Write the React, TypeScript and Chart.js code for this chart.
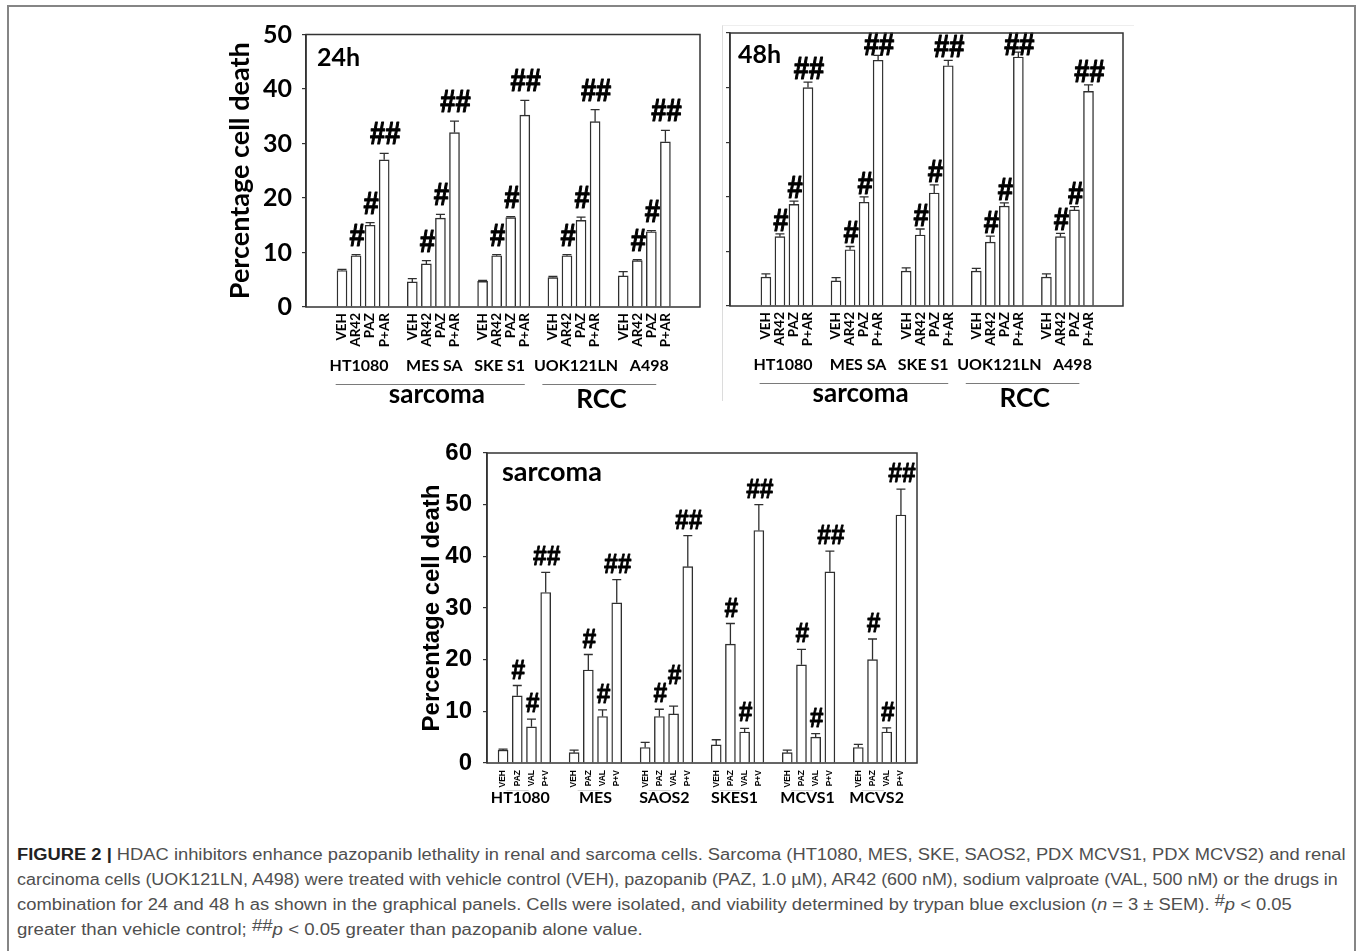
import React, { useEffect, useLayoutEffect, useRef, useState } from 'react';
import { Chart, registerables } from 'chart.js';

Chart.register(...registerables);

// ---------- data ----------
const TREAT_AR42 = ['VEH', 'AR42', 'PAZ', 'P+AR'];
const TREAT_VAL = ['VEH', 'PAZ', 'VAL', 'P+V'];
const CELLS_TOP = ['HT1080', 'MES SA', 'SKE S1', 'UOK121LN', 'A498'];
const CELLS_BOTTOM = ['HT1080', 'MES', 'SAOS2', 'SKES1', 'MCVS1', 'MCVS2'];
const TUMOR_CLASSES = ['sarcoma', 'RCC'];
const SIG_MARKS = ['', '#', '#', '##'];

// % cell death, 24 h (rows: cell lines, cols: VEH, AR42, PAZ, P+AR)
const DEATH_24H = [
  [6.7, 9.4, 15.0, 27.0],
  [4.6, 7.9, 16.3, 32.0],
  [4.7, 9.4, 16.4, 35.2],
  [5.4, 9.4, 15.9, 34.0],
  [5.7, 8.5, 13.8, 30.3],
];
const SEM_24H = [
  [0.2, 0.2, 0.5, 1.2],
  [0.6, 0.6, 0.7, 2.1],
  [0.2, 0.2, 0.2, 2.7],
  [0.2, 0.2, 0.6, 2.2],
  [0.8, 0.2, 0.2, 2.1],
];

// % cell death, 48 h
const DEATH_48H = [
  [5.3, 12.7, 18.6, 40.0],
  [4.6, 10.3, 19.0, 45.0],
  [6.4, 13.0, 20.7, 44.0],
  [6.4, 11.7, 18.3, 45.6],
  [5.3, 12.7, 17.6, 39.3],
];
const SEM_48H = [
  [0.6, 0.5, 0.6, 1.0],
  [0.6, 0.6, 1.0, 0.9],
  [0.6, 1.1, 1.5, 1.0],
  [0.5, 1.1, 0.6, 0.9],
  [0.6, 0.6, 0.6, 1.2],
];

// % cell death, sarcoma lines (cols: VEH, PAZ, VAL, P+V)
const DEATH_SARCOMA = [
  [2.5, 13.0, 7.0, 33.0],
  [2.0, 18.0, 9.0, 31.0],
  [3.0, 9.0, 9.5, 38.0],
  [3.5, 23.0, 6.0, 45.0],
  [2.0, 19.0, 5.0, 37.0],
  [3.0, 20.0, 6.0, 48.0],
];
const SEM_SARCOMA = [
  [0.2, 2.0, 1.5, 3.9],
  [0.5, 3.0, 1.3, 4.5],
  [1.0, 1.4, 1.5, 6.0],
  [1.0, 4.0, 0.7, 5.0],
  [0.5, 3.0, 0.7, 4.0],
  [0.6, 4.0, 0.8, 5.0],
];

const Y_MAX_TOP = 50;
const Y_MAX_BOTTOM = 60;
const Y_STEP = 10;

// ---------- layout ----------
const SLOT = 5; // four bars plus one empty slot per cell line
const CALIBRI = 'Lato, "Open Sans", sans-serif';
const ARIAL = '"Liberation Sans", Arial, sans-serif';

type Panel = {
  values: number[][];
  errors: number[][];
  treatments: string[];
  cells: string[];
  yMax: number;
  xMin: number;
  xMax: number;
  box: { left: number; top: number; width: number; height: number };
  pad: { left: number; top: number; right: number; bottom: number };
  yWidth: number;
  yLabels: boolean;
  yTitlePad: number;
  yFamily: string;
  yTickSize: number;
  yTitleSize: number;
  yTickPad: number;
  xFamily: string;
  xSize: number;
  xAxisHeight: number;
  xPad: number;
  tag: string;
  tagFont: string;
  tagDx: number;
  tagDy: number;
  markFont: string;
  markStroke: number;
  markGap: number;
  markHeight: number;
  markLift: Record<string, number>;
  cellFont: string;
  cellDy: number;
  cellNudge: number[];
  classes: boolean;
  underline: boolean;
};

const PANELS: Panel[] = [
  {
    values: DEATH_24H, errors: SEM_24H, treatments: TREAT_AR42, cells: CELLS_TOP,
    yMax: Y_MAX_TOP, xMin: -1.86, xMax: 24.76,
    box: { left: 220, top: 12, width: 490, height: 410 },
    pad: { left: 0, top: 20, right: 10, bottom: 75 },
    yWidth: 86, yLabels: true, yTitlePad: 4.5, yFamily: CALIBRI, yTickSize: 25, yTitleSize: 27, yTickPad: 10,
    xFamily: CALIBRI, xSize: 13.5, xAxisHeight: 40, xPad: 6,
    tag: '24h', tagFont: `bold 25px ${CALIBRI}`, tagDx: 11, tagDy: 31,
    markFont: `bold 31px ${ARIAL}`, markStroke: 1.1, markGap: 9, markHeight: 22, markLift: {},
    cellFont: `bold 16px ${CALIBRI}`, cellDy: 64, cellNudge: [-4, 1, -4, 2, 5], classes: true, underline: false,
  },
  {
    values: DEATH_48H, errors: SEM_48H, treatments: TREAT_AR42, cells: CELLS_TOP,
    yMax: Y_MAX_TOP, xMin: -1.86, xMax: 24.76,
    box: { left: 712, top: 12, width: 430, height: 410 },
    pad: { left: 0, top: 21, right: 19, bottom: 76 },
    yWidth: 18, yLabels: false, yTitlePad: 0, yFamily: CALIBRI, yTickSize: 25, yTitleSize: 27, yTickPad: 10,
    xFamily: CALIBRI, xSize: 13.5, xAxisHeight: 40, xPad: 6,
    tag: '48h', tagFont: `bold 25px ${CALIBRI}`, tagDx: 8, tagDy: 30,
    markFont: `bold 31px ${ARIAL}`, markStroke: 1.1, markGap: 3, markHeight: 22, markLift: {},
    cellFont: `bold 16px ${CALIBRI}`, cellDy: 64, cellNudge: [-4, 1, -4, 2, 5], classes: true, underline: false,
  },
  {
    values: DEATH_SARCOMA, errors: SEM_SARCOMA, treatments: TREAT_VAL, cells: CELLS_BOTTOM,
    yMax: Y_MAX_BOTTOM, xMin: -0.5, xMax: 28.5,
    box: { left: 400, top: 430, width: 540, height: 390 },
    pad: { left: 0, top: 22, right: 23, bottom: 27 },
    yWidth: 87, yLabels: true, yTitlePad: 17.6, yFamily: ARIAL, yTickSize: 24, yTitleSize: 24, yTickPad: 11,
    xFamily: ARIAL, xSize: 8.5, xAxisHeight: 30, xPad: 7,
    tag: 'sarcoma', tagFont: `bold 27px ${CALIBRI}`, tagDx: 15, tagDy: 28,
    markFont: `bold 28px ${ARIAL}`, markStroke: 0.9, markGap: 7, markHeight: 20, markLift: { '2-2': 15 },
    cellFont: `bold 16px ${CALIBRI}`, cellDy: 40, cellNudge: [-4, 0, -2, -3, -1, -3], classes: false, underline: true,
  },
];

// class rules under the 24 h / 48 h panels, in x-axis units
const CLASS_RULES = [[-0.45, 13.0], [14.25, 22.35]];
const CLASS_CENTERS = [6.75, 18.45];

function buildChart(canvas: HTMLCanvasElement, p: Panel) {
  const points: { x: number; y: number }[] = [];
  p.values.forEach((row, g) => row.forEach((v, t) => points.push({ x: g * SLOT + t, y: v })));
  const tickPositions = points.map((d) => d.x);

  const decor = {
    id: 'panelDecor',
    afterDatasetsDraw(chart: any) {
      const { ctx, chartArea: a, scales } = chart;
      const xs = scales.x;
      const ys = scales.y;
      ctx.save();

      // error bars (upper whisker only) and significance marks
      p.values.forEach((row, g) =>
        row.forEach((v, t) => {
          const x = xs.getPixelForValue(g * SLOT + t);
          const y0 = ys.getPixelForValue(v);
          const y1 = ys.getPixelForValue(v + p.errors[g][t]);
          ctx.strokeStyle = '#2f2f2f';
          ctx.lineWidth = 1.3;
          ctx.beginPath();
          ctx.moveTo(x, y0);
          ctx.lineTo(x, y1);
          ctx.moveTo(x - 4.5, y1);
          ctx.lineTo(x + 4.5, y1);
          ctx.stroke();
          const mark = SIG_MARKS[t];
          if (mark) {
            const lift = p.markLift[`${g}-${t}`] || 0;
            const base = Math.max(y1 - p.markGap - lift, a.top + p.markHeight);
            ctx.save();
            ctx.translate(x + 1, base);
            ctx.scale(0.88, 1);
            ctx.font = p.markFont;
            ctx.fillStyle = '#000';
            ctx.strokeStyle = '#000';
            ctx.lineWidth = p.markStroke;
            ctx.lineJoin = 'round';
            ctx.textAlign = 'center';
            ctx.textBaseline = 'alphabetic';
            ctx.fillText(mark, 0, 0);
            ctx.strokeText(mark, 0, 0);
            ctx.restore();
          }
        })
      );

      // plot frame
      ctx.strokeStyle = '#333';
      ctx.lineWidth = 1.5;
      ctx.strokeRect(a.left, a.top, a.right - a.left, a.bottom - a.top);

      // panel tag
      ctx.fillStyle = '#000';
      ctx.font = p.tagFont;
      ctx.textAlign = 'left';
      ctx.textBaseline = 'alphabetic';
      ctx.fillText(p.tag, a.left + p.tagDx, a.top + p.tagDy);

      // cell line names
      ctx.font = p.cellFont;
      ctx.textAlign = 'center';
      p.cells.forEach((name, g) => {
        const cx = xs.getPixelForValue(g * SLOT + 1.5) + (p.cellNudge[g] || 0);
        ctx.fillText(name, cx, a.bottom + p.cellDy);
        if (p.underline) {
          ctx.strokeStyle = '#d4d4d4';
          ctx.lineWidth = 1;
          ctx.beginPath();
          ctx.moveTo(xs.getPixelForValue(g * SLOT + 0.25), a.bottom + 27.5);
          ctx.lineTo(xs.getPixelForValue(g * SLOT + 1.8), a.bottom + 27.5);
          ctx.stroke();
        }
      });

      // tumour class rules and names
      if (p.classes) {
        TUMOR_CLASSES.forEach((name, i) => {
          const [from, to] = CLASS_RULES[i];
          ctx.strokeStyle = '#7a7a7a';
          ctx.lineWidth = 1;
          ctx.beginPath();
          ctx.moveTo(xs.getPixelForValue(from), a.bottom + 77.5);
          ctx.lineTo(xs.getPixelForValue(to), a.bottom + 77.5);
          ctx.stroke();
          ctx.font = `bold 26px ${CALIBRI}`;
          ctx.fillStyle = '#000';
          ctx.textAlign = 'center';
          ctx.fillText(name, xs.getPixelForValue(CLASS_CENTERS[i]), a.bottom + (i === 0 ? 96 : 101));
        });
      }
      ctx.restore();
    },
  };

  return new Chart(canvas, {
    type: 'bar',
    data: {
      datasets: [
        {
          data: points as any,
          backgroundColor: '#ffffff',
          borderColor: '#2f2f2f',
          borderWidth: 1.4,
          barThickness: 10,
        },
      ],
    },
    options: {
      responsive: false,
      animation: false,
      layout: { padding: p.pad },
      plugins: { legend: { display: false }, tooltip: { enabled: false } },
      scales: {
        x: {
          type: 'linear',
          min: p.xMin,
          max: p.xMax,
          grid: { display: false, drawTicks: false },
          border: { display: false },
          afterBuildTicks: (scale: any) => {
            scale.ticks = tickPositions.map((v) => ({ value: v }));
          },
          afterFit: (scale: any) => {
            scale.height = p.xAxisHeight;
          },
          ticks: {
            autoSkip: false,
            minRotation: 90,
            maxRotation: 90,
            padding: p.xPad,
            color: '#000',
            font: { family: p.xFamily, size: p.xSize, weight: 'bold', lineHeight: 1 },
            callback: (value: any) => p.treatments[Math.round(Number(value)) % SLOT] ?? '',
          },
        },
        y: {
          min: 0,
          max: p.yMax,
          afterFit: (scale: any) => {
            scale.width = p.yWidth;
          },
          ticks: {
            display: p.yLabels,
            stepSize: Y_STEP,
            padding: p.yTickPad,
            color: '#000',
            font: { family: p.yFamily, size: p.yTickSize, weight: 'bold', lineHeight: 1 },
          },
          grid: { display: true, drawOnChartArea: false, drawTicks: true, tickLength: 4, color: '#333', lineWidth: 1.2 },
          border: { display: true, color: '#333', width: 1.5 },
          title: {
            display: p.yLabels,
            text: 'Percentage cell death',
            color: '#000',
            font: { family: p.yFamily, size: p.yTitleSize, weight: 'bold' },
            padding: { top: p.yTitlePad, bottom: 0 },
          },
        },
      },
    },
    plugins: [decor],
  } as any);
}

function PanelCanvas({ panel }: { panel: Panel }) {
  const ref = useRef<HTMLCanvasElement>(null);
  useEffect(() => {
    if (!ref.current) return;
    const chart = buildChart(ref.current, panel);
    return () => chart.destroy();
  }, [panel]);
  const b = panel.box;
  return (
    <canvas
      ref={ref}
      width={b.width}
      height={b.height}
      style={{ position: 'absolute', left: b.left, top: b.top, width: b.width, height: b.height, display: 'block' }}
    />
  );
}

// caption line stretched to a fixed measure
function FitLine({ top, width, children }: { top: number; width: number; children: React.ReactNode }) {
  const ref = useRef<HTMLSpanElement>(null);
  const [sx, setSx] = useState(1);
  useLayoutEffect(() => {
    if (ref.current) {
      const w = ref.current.offsetWidth;
      if (w > 0) setSx(width / w);
    }
  }, [width]);
  return (
    <span
      ref={ref}
      style={{
        position: 'absolute',
        left: 17,
        top,
        whiteSpace: 'nowrap',
        display: 'inline-block',
        fontFamily: '"Liberation Sans", Arial, sans-serif',
        fontSize: 16,
        lineHeight: '20px',
        color: '#4f4f4f',
        transform: `scaleX(${sx})`,
        transformOrigin: 'left top',
      }}
    >
      {children}
    </span>
  );
}

const Hash = ({ n }: { n: number }) => (
  <span style={{ position: 'relative', top: -4 }}>{'#'.repeat(n)}</span>
);

export default function App() {
  return (
    <div
      style={{
        position: 'absolute',
        left: 0,
        top: 0,
        width: 1357,
        height: 951,
        background: '#fff',
        overflow: 'hidden',
      }}
    >
      <div
        style={{
          position: 'absolute',
          left: 7,
          top: 5,
          width: 1349,
          height: 1000,
          border: '2px solid #858585',
          boxSizing: 'border-box',
        }}
      />
      <div
        style={{
          position: 'absolute',
          left: 722,
          top: 25,
          width: 412,
          height: 376,
          borderLeft: '1px solid #dcdcdc',
          borderTop: '1px solid #eeeeee',
          boxSizing: 'border-box',
        }}
      />
      {PANELS.map((p, i) => (
        <PanelCanvas key={i} panel={p} />
      ))}
      <FitLine top={845} width={1329}>
        <b style={{ color: '#222' }}>FIGURE 2 |</b> HDAC inhibitors enhance pazopanib lethality in renal and sarcoma
        cells. Sarcoma (HT1080, MES, SKE, SAOS2, PDX MCVS1, PDX MCVS2) and renal
      </FitLine>
      <FitLine top={870} width={1321}>
        carcinoma cells (UOK121LN, A498) were treated with vehicle control (VEH), pazopanib (PAZ, 1.0 µM), AR42 (600 nM),
        sodium valproate (VAL, 500 nM) or the drugs in
      </FitLine>
      <FitLine top={895} width={1275}>
        combination for 24 and 48 h as shown in the graphical panels. Cells were isolated, and viability determined by
        trypan blue exclusion (<i>n</i> = 3 ± SEM). <Hash n={1} />
        <i>p</i> &lt; 0.05
      </FitLine>
      <FitLine top={920} width={626}>
        greater than vehicle control; <Hash n={2} />
        <i>p</i> &lt; 0.05 greater than pazopanib alone value.
      </FitLine>
    </div>
  );
}
